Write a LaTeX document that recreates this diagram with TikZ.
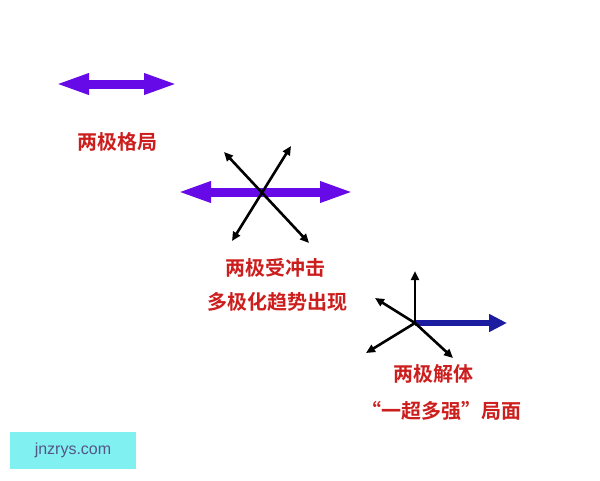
\documentclass[tikz,border=0pt]{standalone}
\usepackage{fontspec}
\newfontfamily\cjk{Noto Sans CJK SC}[BoldFont={Noto Sans CJK SC Bold}]
\setsansfont{Liberation Sans}
\usetikzlibrary{arrows.meta}
\definecolor{arrpurple}{RGB}{102,10,232}
\definecolor{arrblue}{RGB}{28,28,160}
\definecolor{txtred}{RGB}{205,30,30}
\definecolor{wmbox}{RGB}{128,240,240}
\definecolor{wmtext}{RGB}{85,85,135}
\tikzset{
  bigarrow/.style={line width=9pt,draw=arrpurple,
    {Triangle[length=34pt,width=19pt]}-{Triangle[length=34pt,width=19pt]}},
  bluearrow/.style={line width=6.5pt,draw=arrblue,-{Triangle[length=18pt,width=17pt]}},
  thinarrow/.style={line width=2.6pt,draw=black,-{Triangle[length=9pt,width=8pt]}},
  thindbl/.style={line width=2.6pt,draw=black,{Triangle[length=9pt,width=8pt]}-{Triangle[length=9pt,width=8pt]}},
  label/.style={font=\cjk\bfseries\fontsize{20}{22}\selectfont,text=txtred,inner sep=0pt},
}
\begin{document}
\begin{tikzpicture}[x=1pt,y=-1pt]
\useasboundingbox (0,0) rectangle (600,480);
\fill[white] (0,0) rectangle (600,480);
% stage 1
\coordinate (a1) at (55,84);
\coordinate (a2) at (178,84);
\draw[bigarrow] (a1) -- (a2);
\node[label] (t1) at (117,142) {两极格局};
% stage 2
\coordinate (b1) at (177,192);
\coordinate (b2) at (354,192);
\draw[bigarrow] (b1) -- (b2);
\coordinate (c1) at (232,241);
\coordinate (c2) at (291,146);
\coordinate (d1) at (224,152);
\coordinate (d2) at (309,243);
\draw[thindbl] (c1) -- (c2);
\draw[thindbl] (d1) -- (d2);
\node[label] (t2) at (275,268) {两极受冲击};
\node[label] (t3) at (277,302) {多极化趋势出现};
% stage 3
\coordinate (o) at (415,323);
\coordinate (e1) at (415,271);
\coordinate (e2) at (375,298);
\coordinate (e3) at (366,353);
\coordinate (e4) at (453,358);
\coordinate (e5) at (507,323);
\draw[bluearrow] (o) -- (e5);
\draw[thinarrow] (o) -- (e1);
\draw[thinarrow] (o) -- (e2);
\draw[thinarrow] (o) -- (e3);
\draw[thinarrow] (o) -- (e4);
\node[label] (t4) at (433,374) {两极解体};
\node[label] (t5) at (441,411) {“一超多强”局面};
% watermark
\node[fill=wmbox,minimum width=126pt,minimum height=37pt,inner sep=0pt,
  font=\sffamily\fontsize{16}{18}\selectfont,text=wmtext] (wm) at (73,450.5) {jnzrys.com};
\end{tikzpicture}
\end{document}
